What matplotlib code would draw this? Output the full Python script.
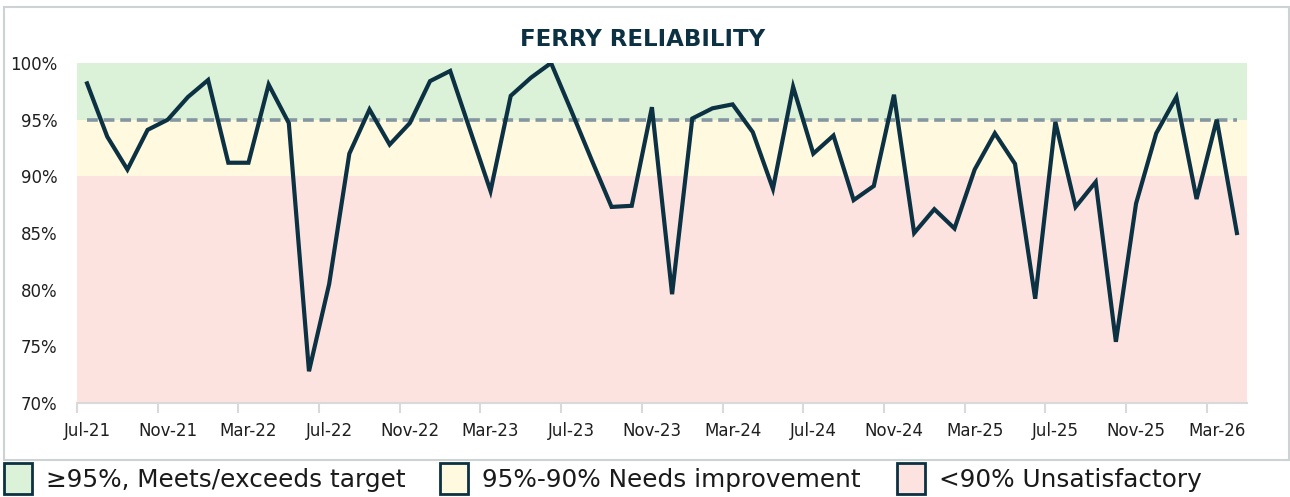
import matplotlib
matplotlib.use("Agg")
import matplotlib.pyplot as plt
import matplotlib.patches as mpatches
import pandas as pd
import numpy as np

# ---- data ----
months = pd.date_range("2021-07-01", periods=58, freq="MS").strftime("%b-%y").tolist()
reliability = [
    98.2, 93.5, 90.6, 94.1, 95.0, 97.0, 98.5, 91.2, 91.2, 98.1,
    94.7, 72.8, 80.5, 92.0, 95.9, 92.8, 94.7, 98.4, 99.3, 94.0,
    88.7, 97.1, 98.7, 100.0, 95.8, 91.5, 87.3, 87.4, 96.1, 79.6,
    95.1, 96.0, 96.35, 93.9, 88.9, 97.9, 92.0, 93.6, 87.9, 89.15,
    97.2, 85.0, 87.1, 85.4, 90.6, 93.8, 91.1, 79.2, 94.8, 87.3,
    89.5, 75.4, 87.6, 93.8, 97.0, 88.0, 95.0, 85.0,
]
target = [95.0] * len(months)
tick_labels = ["Jul-21", "Nov-21", "Mar-22", "Jul-22", "Nov-22", "Mar-23", "Jul-23",
               "Nov-23", "Mar-24", "Jul-24", "Nov-24", "Mar-25", "Jul-25", "Nov-25", "Mar-26"]
y_ticks = [70, 75, 80, 85, 90, 95, 100]
bands = [(95, 100, "#DCF2D8", "≥95%, Meets/exceeds target"),
         (90, 95, "#FEF9DF", "95%-90% Needs improvement"),
         (70, 90, "#FDE3E0", "<90% Unsatisfactory")]

NAVY = "#0B3142"
W, H = 1290, 497
fig = plt.figure(figsize=(W / 100, H / 100), dpi=100)

# outer chart border
fig.patches.append(mpatches.Rectangle((4 / W, 1 - 460 / H), (1289 - 4) / W, (460 - 7) / H,
                                      transform=fig.transFigure, fill=False,
                                      edgecolor="#CDD3D3", linewidth=1.5))

ax = fig.add_axes([77 / W, 1 - 403 / H, (1247 - 77) / W, (403 - 63) / H])
x = np.arange(len(months))

for lo, hi, col, lab in bands:
    ax.axhspan(lo, hi, color=col, zorder=0, linewidth=0)

ax.plot(x, target, color="#8496A0", linewidth=2.6, linestyle=(0, (3, 1.6)), zorder=2)
ax.plot(x, reliability, color=NAVY, linewidth=3.0, solid_joinstyle="miter", zorder=3)

ax.set_xlim(-0.5, len(months) - 0.5)
ax.set_ylim(70, 100)
ax.set_yticks(y_ticks)
ax.set_yticklabels([f"{v}%" for v in y_ticks])
ax.tick_params(axis="y", length=0, pad=14, labelsize=12, labelcolor="#1f1f1f")

label_pos = [months.index(t) for t in tick_labels]
ax.set_xticks([p - 0.5 for p in label_pos])
ax.set_xticklabels([])
ax.set_xticks(label_pos, minor=True)
ax.set_xticklabels(tick_labels, minor=True)
ax.tick_params(axis="x", which="major", length=7, width=1.5, color="#D9D9D9")
ax.tick_params(axis="x", which="minor", length=0, pad=14, labelsize=12, labelcolor="#1f1f1f")

for s in ["top", "right", "left"]:
    ax.spines[s].set_visible(False)
ax.spines["bottom"].set_color("#D9D9D9")
ax.spines["bottom"].set_linewidth(1.5)

fig.text(643 / W, 1 - 40 / H, "FERRY RELIABILITY",
         ha="center", va="center", fontsize=16.5, fontweight="bold", color=NAVY)

# legend
sq_x = [4, 440, 897]
for (lo, hi, col, lab), sx in zip(bands, sq_x):
    fig.patches.append(mpatches.Rectangle((sx / W, 1 - 494 / H), 28 / W, 31 / H,
                                          transform=fig.transFigure, facecolor=col,
                                          edgecolor=NAVY, linewidth=2))
    fig.text((sx + 42) / W, 1 - 480 / H, lab, ha="left", va="center",
             fontsize=17.8, color="#1a1a1a")

fig.savefig("out.png", dpi=100)
